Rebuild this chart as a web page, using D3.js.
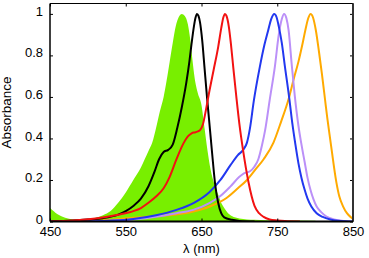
<!DOCTYPE html>
<html>
<head>
<meta charset="utf-8">
<script src="https://cdn.jsdelivr.net/npm/d3@7"></script>
<style>
  body { margin: 0; background: #fff; }
  text { font-family: "Liberation Sans", Arial, Helvetica, sans-serif; }
</style>
</head>
<body>
<div id="chart"></div>
<script>
// spectra: [wavelength nm, absorbance]
var greenBand = [[450,0.065],[460,0.035],[470,0.018],[480,0.01],[490,0.008],[500,0.01],[510,0.018],[520,0.03],[530,0.05],[540,0.09],[550,0.14],[560,0.2],[570,0.26],[575,0.3],[580,0.34],[585,0.38],[590,0.45],[595,0.53],[600,0.6],[604,0.68],[608,0.77],[612,0.86],[616,0.94],[620,0.985],[624,1.0],[628,0.99],[632,0.95],[635,0.88],[638,0.78],[641,0.69],[645,0.62],[650,0.56],[654,0.45],[658,0.34],[662,0.25],[667,0.18],[672,0.13],[676,0.09],[680,0.065],[685,0.04],[690,0.027],[700,0.015],[720,0.008],[750,0.005],[800,0.004],[802,0]];
var blackLine = [[450,0],[480,0.005],[500,0.01],[520,0.016],[540,0.033],[550,0.05],[560,0.075],[570,0.11],[580,0.17],[588,0.24],[594,0.3],[600,0.335],[606,0.345],[612,0.37],[618,0.45],[624,0.55],[630,0.67],[634,0.77],[637,0.86],[640,0.94],[642,0.98],[644,1.0],[646,0.99],[648,0.96],[651,0.87],[654,0.74],[657,0.61],[660,0.49],[664,0.33],[668,0.18],[672,0.09],[676,0.04],[680,0.02],[690,0.008],[700,0.003],[720,0]];
var redLine = [[450,0],[480,0.005],[510,0.015],[540,0.033],[560,0.05],[570,0.065],[580,0.09],[590,0.12],[600,0.16],[608,0.215],[617,0.3],[626,0.375],[632,0.41],[637,0.425],[642,0.43],[648,0.44],[652,0.47],[656,0.54],[660,0.62],[666,0.73],[672,0.84],[676,0.93],[679,0.985],[681,1.0],[683,0.99],[686,0.94],[689,0.85],[692,0.74],[696,0.6],[700,0.47],[705,0.34],[712,0.19],[720,0.075],[726,0.04],[732,0.022],[740,0.01],[750,0.005],[760,0.002],[780,0]];
var blueLine = [[450,0],[520,0.003],[560,0.012],[590,0.03],[617,0.056],[640,0.09],[660,0.14],[675,0.2],[688,0.27],[698,0.32],[705,0.345],[710,0.38],[714,0.45],[719,0.58],[727,0.745],[733,0.85],[738,0.92],[742,0.975],[746,1.0],[749,0.985],[752,0.94],[756,0.86],[760,0.75],[766,0.59],[770,0.47],[774,0.37],[778,0.28],[782,0.21],[786,0.155],[790,0.11],[795,0.072],[802,0.04],[810,0.022],[820,0.01],[830,0.004],[850,0]];
var purpleLine = [[450,0],[520,0.003],[560,0.01],[592,0.024],[617,0.04],[639,0.056],[661,0.09],[674,0.12],[688,0.168],[700,0.215],[706,0.232],[714,0.242],[720,0.265],[725,0.3],[730,0.37],[734,0.44],[740,0.585],[747,0.75],[752,0.9],[756,0.975],[759,1.0],[762,0.98],[765,0.92],[769,0.76],[773,0.61],[778,0.46],[782,0.37],[786,0.29],[790,0.21],[794,0.15],[798,0.105],[802,0.072],[808,0.045],[815,0.024],[825,0.01],[835,0.004],[850,0]];
var orangeLine = [[450,0],[500,0.002],[530,0.008],[540,0.012],[560,0.018],[590,0.025],[613,0.032],[639,0.048],[661,0.072],[683,0.113],[698,0.16],[710,0.2],[720,0.245],[732,0.3],[745,0.38],[755,0.48],[765,0.59],[772,0.69],[778,0.77],[783,0.85],[787,0.92],[791,0.98],[794,1.0],[797,0.985],[801,0.92],[805,0.82],[809,0.71],[813,0.59],[816,0.5],[819,0.42],[822,0.34],[828,0.19],[832,0.12],[837,0.072],[842,0.04],[848,0.018],[850,0.012]];

var xTicks = [450, 550, 650, 750, 850];
var yTicks = [0, 0.2, 0.4, 0.6, 0.8, 1];

function init()
{
  var margin = {top: 3.5, right: 16, bottom: 36.5, left: 50};
  var width = 369 - margin.left - margin.right;
  var height = 258 - margin.top - margin.bottom;

  var svg = d3.select("#chart")
    .append("svg")
    .attr("width", 369)
    .attr("height", 258)
    .append("g")
    .attr("transform", "translate(" + margin.left + "," + margin.top + ")");

  var xScale = d3.scaleLinear().domain([450, 850]).range([0, width]);
  var yScale = d3.scaleLinear().domain([0, 1.05]).range([height, 0]);

  svg.append("clipPath").attr("id", "clip")
    .append("rect").attr("width", width).attr("height", height);

  var plot = svg.append("g").attr("clip-path", "url(#clip)");

  var area = d3.area()
    .curve(d3.curveMonotoneX)
    .x(function(d) {return xScale(d[0]);})
    .y0(height)
    .y1(function(d) {return yScale(d[1]);});

  var line = d3.line()
    .curve(d3.curveMonotoneX)
    .x(function(d) {return xScale(d[0]);})
    .y(function(d) {return yScale(d[1]);});

  plot.append("path")
    .datum(greenBand)
    .attr("d", area)
    .style("fill", "#78ef00");

  var series = [
    {data: orangeLine, color: "#ffaa00"},
    {data: purpleLine, color: "#bb90f8"},
    {data: blueLine, color: "#2238f0"},
    {data: blackLine, color: "#000000"},
    {data: redLine, color: "#f21212"}
  ];

  series.forEach(function(s) {
    plot.append("path")
      .datum(s.data)
      .attr("d", line)
      .style("fill", "none")
      .style("stroke", s.color)
      .style("stroke-width", 2);
  });

  // axes, ticks pointing inwards on all four sides
  var xAxis = d3.axisBottom(xScale).tickValues(xTicks).tickSizeInner(-3).tickSizeOuter(0).tickPadding(5);
  var yAxis = d3.axisLeft(yScale).tickValues(yTicks).tickSizeInner(-3).tickSizeOuter(0).tickPadding(7)
    .tickFormat(function(d) {return d3.format("")(d);});

  var gx = svg.append("g")
    .attr("transform", "translate(0," + height + ")")
    .call(xAxis);
  var gy = svg.append("g").call(yAxis);

  svg.append("g")
    .call(d3.axisTop(xScale).tickValues(xTicks).tickSizeInner(-3).tickSizeOuter(0).tickFormat(""));
  svg.append("g")
    .attr("transform", "translate(" + width + ",0)")
    .call(d3.axisRight(yScale).tickValues(yTicks).tickSizeInner(-3).tickSizeOuter(0).tickFormat(""));

  svg.selectAll(".domain").remove();
  svg.selectAll(".tick line").style("stroke", "#000");
  svg.selectAll(".tick text")
    .style("font-size", "13px")
    .style("fill", "#000")
    .style("font-family", "'Liberation Sans', Arial, sans-serif");
  gx.selectAll(".tick text").attr("dy", "0.71em");
  gy.selectAll(".tick text").attr("dy", "0.12em");

  // frame
  svg.append("line").attr("x1", 0).attr("x2", width).attr("y1", 0).attr("y2", 0)
    .style("stroke", "#000").style("stroke-width", 1.2);
  svg.append("line").attr("x1", 0).attr("x2", 0).attr("y1", 0).attr("y2", height)
    .style("stroke", "#000").style("stroke-width", 1.5);
  svg.append("line").attr("x1", width).attr("x2", width).attr("y1", 0).attr("y2", height)
    .style("stroke", "#333").style("stroke-width", 2);
  svg.append("line").attr("x1", 0).attr("x2", width).attr("y1", height).attr("y2", height)
    .style("stroke", "#000").style("stroke-width", 2);

  svg.append("text")
    .attr("x", width / 2)
    .attr("y", height + 31)
    .style("font-size", "13px")
    .style("text-anchor", "middle")
    .text("λ (nm)");

  svg.append("text")
    .attr("transform", "translate(" + (-39) + "," + (height / 2) + ") rotate(-90)")
    .style("font-size", "13.5px")
    .style("text-anchor", "middle")
    .text("Absorbance");
}

window.onload = init;
</script>
</body>
</html>
